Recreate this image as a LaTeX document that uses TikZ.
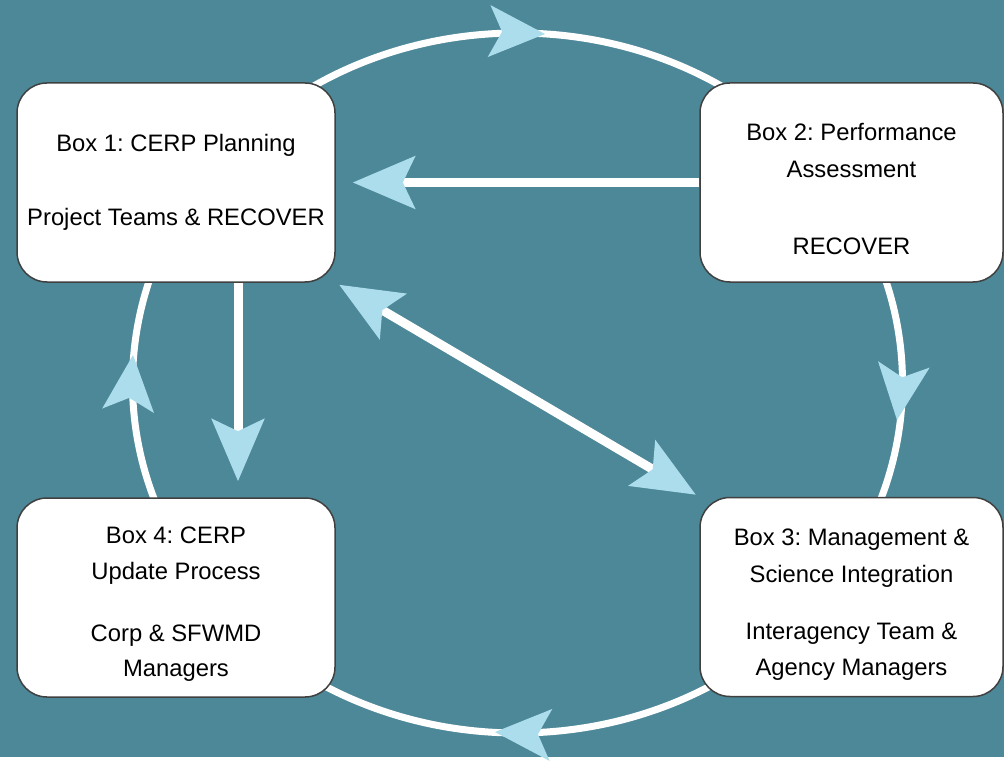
\documentclass[tikz,border=0pt]{standalone}
\usepackage{fontspec}
\setmainfont{Liberation Sans}
\usetikzlibrary{arrows.meta}
\frenchspacing

\definecolor{fondo}{RGB}{77,136,152}
\definecolor{celeste}{RGB}{172,221,237}

\tikzset{
  caja/.style={draw=black!75, line width=1.5pt, fill=white, rounded corners=30pt,
    align=center, inner sep=0pt, font=\fontsize{23.8}{36}\selectfont},
  flecha/.style={white, line width=9pt},
  punta/.tip={Stealth[length=62pt, width=52pt, inset=12pt, color=celeste]}
}
% punta suelta sobre el circulo
\newcommand{\cabeza}[3]{\fill[celeste, shift={(#1,#2)}, rotate=#3] (0,0)--(-56,-26)--(-43,0)--(-56,26)--cycle;}

\begin{document}
\begin{tikzpicture}[x=1pt, y=-1pt]
		\fill[fondo] (0,0) rectangle (1004,757);

		%Ciclo
		\draw[white, line width=7pt] (517.5,383) ellipse [x radius=385pt, y radius=350pt];

		%Cajas
		\node[caja, minimum width=318pt, minimum height=199pt] (b1) at (176,182.5)
			{Box 1: CERP Planning\\[38pt]Project Teams \& RECOVER};
		\node[caja, minimum width=303pt, minimum height=199pt] (b2) at (851.5,182.5)
			{\rule{0pt}{31pt}Box 2: Performance\\[1pt]Assessment\\[41pt]RECOVER};
		\node[caja, minimum width=303pt, minimum height=199pt] (b3) at (851.5,597)
			{\rule{0pt}{31pt}Box 3: Management \&\\[1pt]Science Integration\\[21pt]Interagency Team \&\\Agency Managers};
		\node[caja, minimum width=318pt, minimum height=199pt] (b4) at (176,597.5)
			{\rule{0pt}{30pt}Box 4: CERP\\Update Process\\[26pt]Corp \& SFWMD\\[-1pt]Managers};

		%Flechas rectas
		\draw[flecha, -punta, shorten >=17pt] (b2.west) -- (b1.east);
		\draw[flecha, -punta, shorten >=16pt] ([xshift=62pt]b1.south) -- ([xshift=62pt]b4.north);
		\draw[flecha, punta-punta, shorten <=4pt, shorten >=4pt] (b1.south east) -- (b3.north west);

		%Puntas del ciclo
		\cabeza{545}{34}{-3}
		\cabeza{897}{420}{-97}
		\cabeza{495}{732}{177}
		\cabeza{133}{355}{85}
\end{tikzpicture}
\end{document}
